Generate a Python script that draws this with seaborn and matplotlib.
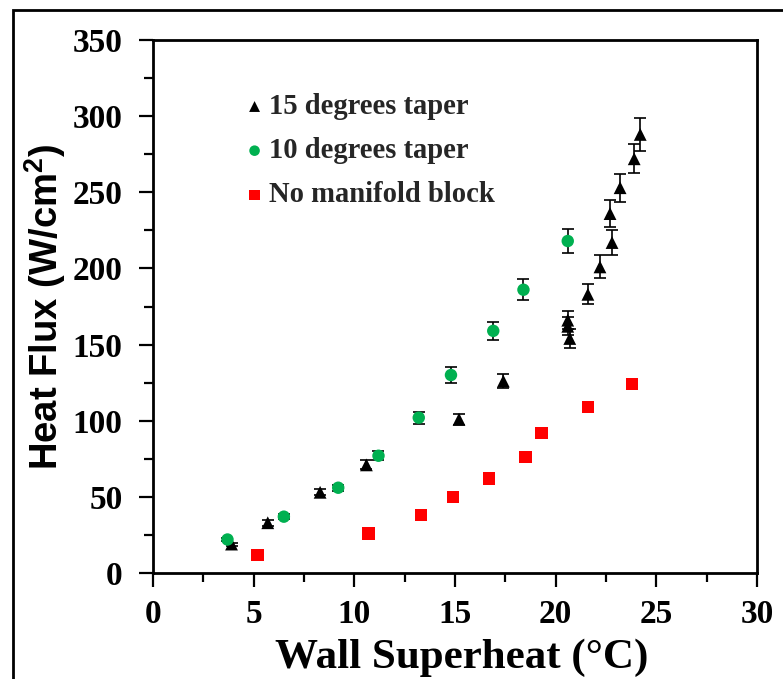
import matplotlib
matplotlib.use("Agg")
import matplotlib.pyplot as plt
from matplotlib.patches import Rectangle
from matplotlib.ticker import MultipleLocator
import numpy as np
import pandas as pd
import seaborn as sns

# 15 degrees taper
taper15_x = [3.9, 5.7, 8.3, 10.6, 15.2, 17.4, 20.6, 20.6, 20.7, 21.6, 22.2, 22.8, 22.7, 23.2, 23.9, 24.2]
taper15_y = [19, 33, 53, 71, 101, 126, 166, 162, 154, 183, 201, 217, 236, 253, 272, 288]
taper15_err = [1, 2, 2, 3, 3.7, 4.8, 6, 6, 6, 6.5, 7.6, 8, 9, 9.3, 9.5, 10.7]

# 10 degrees taper
taper10_x = [3.7, 6.5, 9.2, 11.2, 13.2, 14.8, 16.9, 18.4, 20.6]
taper10_y = [22, 37, 56, 77, 102, 130, 159, 186, 218]
taper10_err = [1, 1.5, 2, 3, 4, 5, 6, 7, 8]

# No manifold block
nomani_x = [5.2, 10.7, 13.3, 14.9, 16.7, 18.5, 19.3, 21.6, 23.8]
nomani_y = [12, 26, 38, 50, 62, 76, 92, 109, 124]

series_labels = ["15 degrees taper", "10 degrees taper", "No manifold block"]
x_ticks = [0, 5, 10, 15, 20, 25, 30]
y_ticks = [0, 50, 100, 150, 200, 250, 300, 350]

sns.set_theme(style="white")
serif = "Liberation Serif"
sans = "Liberation Sans"

fig = plt.figure(figsize=(7.83, 6.79), dpi=100)
ax = fig.add_axes([0.1954, 0.1561, 0.7714, 0.7850])

df15 = pd.DataFrame({"x": taper15_x, "y": taper15_y, "e": taper15_err})
df10 = pd.DataFrame({"x": taper10_x, "y": taper10_y, "e": taper10_err})
dfnm = pd.DataFrame({"x": nomani_x, "y": nomani_y})

# error bars first so markers sit on top
ax.errorbar(df15["x"], df15["y"], yerr=df15["e"], fmt="none", ecolor="black",
            elinewidth=1.2, capsize=4.2, capthick=1.2, zorder=2)
ax.errorbar(df10["x"], df10["y"], yerr=df10["e"], fmt="none", ecolor="black",
            elinewidth=1.2, capsize=4.2, capthick=1.2, zorder=2)

sns.scatterplot(data=df15, x="x", y="y", marker="^", s=85, color="black",
                edgecolor="none", label=series_labels[0], ax=ax, zorder=3)
sns.scatterplot(data=df10, x="x", y="y", marker="o", s=80, color="#00B050",
                edgecolor="none", label=series_labels[1], ax=ax, zorder=3)
sns.scatterplot(data=dfnm, x="x", y="y", marker="s", s=80, color="#FF0000",
                edgecolor="none", label=series_labels[2], ax=ax, zorder=3)

ax.set_xlim(0, 30)
ax.set_ylim(0, 350)
ax.set_xticks(x_ticks)
ax.set_yticks(y_ticks)
ax.xaxis.set_minor_locator(MultipleLocator(2.5))
ax.yaxis.set_minor_locator(MultipleLocator(25))
ax.tick_params(which="major", direction="out", length=10, width=1.6, color="black",
               bottom=True, left=True)
ax.tick_params(axis="y", which="major", pad=12)
ax.tick_params(axis="x", which="major", pad=9)
ax.tick_params(which="minor", direction="out", length=6.5, width=1.6, color="black",
               bottom=True, left=True)
for lab in ax.get_xticklabels() + ax.get_yticklabels():
    lab.set_fontfamily(serif)
    lab.set_fontweight("bold")
    lab.set_fontsize(24)
    lab.set_color("black")

for sp in ax.spines.values():
    sp.set_visible(True)
    sp.set_color("black")
    sp.set_linewidth(2)

ax.set_xlabel("Wall Superheat (°C)", fontfamily=serif, fontweight="bold",
              fontsize=31, color="black")
ax.xaxis.set_label_coords(0.5116, -0.122, transform=ax.transAxes)
ax.xaxis.label.set_verticalalignment("top")
ax.set_ylabel("Heat Flux (W/cm$^\\mathregular{2}$)", fontfamily=sans, fontweight="bold",
              fontsize=27.5, color="black", labelpad=3)

leg = ax.legend(loc="upper left", bbox_to_anchor=(0.135, 0.922), frameon=False,
                handlelength=0.6, handletextpad=0.22, labelspacing=0.6,
                borderaxespad=0, markerscale=0.85,
                prop={"family": serif, "weight": "bold", "size": 20.6})

# outer frame around the whole figure
fig.patches.append(Rectangle((12.7 / 783, -0.05), 1.2, 1 - 10 / 679 + 0.05,
                             transform=fig.transFigure, fill=False,
                             edgecolor="black", linewidth=2, clip_on=False))

fig.savefig("out.png", dpi=100)
